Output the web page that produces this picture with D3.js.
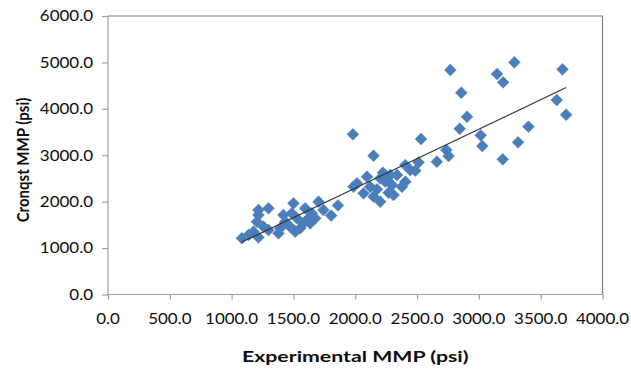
<!DOCTYPE html>
<html>
<head>
<meta charset="utf-8">
<script src="https://cdn.jsdelivr.net/npm/d3@7"></script>
<style>
  body { margin: 0; background: #fff; }
  text { font-family: Lato, "Open Sans", sans-serif; fill: #0d0d0d; }
</style>
</head>
<body>
<svg id="chart"></svg>
<script>
// Experimental MMP vs Cronquist MMP (psi)
const expMMP = [2769, 2858, 3287, 3147, 3196, 3676, 3630, 3706, 2904, 2845,
  3015, 3028, 3401, 3317, 3193, 2737, 2755, 2660, 1981, 2148,
  2532, 2513, 2486, 2405, 2405, 2338, 2224, 2095, 2014, 1986,
  2067, 2148, 2202, 2270, 2297, 2310, 2378, 2243, 2176, 2121,
  2202, 2283, 2445, 1860, 1805, 1083, 1136, 1177, 1217, 1217,
  1217, 1204, 1298, 1258, 1298, 1379, 1393, 1419, 1433, 1474,
  1500, 1487, 1528, 1514, 1595, 1581, 1622, 1649, 1555, 1703,
  1743, 1676, 1636];
const cronMMP = [4836, 4347, 5002, 4750, 4571, 4851, 4190, 3873, 3830, 3571,
  3429, 3199, 3615, 3278, 2912, 3113, 2983, 2860, 3451, 2990,
  3350, 2848, 2667, 2789, 2430, 2574, 2624, 2538, 2395, 2322,
  2180, 2107, 1999, 2193, 2359, 2143, 2322, 2430, 2266, 2322,
  2502, 2574, 2682, 1920, 1700, 1211, 1282, 1353, 1232, 1820,
  1712, 1568, 1856, 1460, 1389, 1318, 1426, 1712, 1568, 1460,
  1964, 1749, 1641, 1353, 1856, 1533, 1641, 1749, 1426, 1999,
  1820, 1641, 1533];
const xTicks = [0, 500, 1000, 1500, 2000, 2500, 3000, 3500, 4000];
const yTicks = [0, 1000, 2000, 3000, 4000, 5000, 6000];

const width = 631, height = 369;
const mLeft = 108, mRight = 602.5, mTop = 16, mBottom = 294.5;
const sx = 1.13; // the picture's text is stretched sideways

const svg = d3.select("#chart").attr("width", width).attr("height", height);

const x = d3.scaleLinear().domain([0, 4000]).range([mLeft, mRight]);
const y = d3.scaleLinear().domain([0, 6000]).range([mBottom, mTop]);

// plot area border (top and right)
svg.append("path")
  .attr("d", `M${mLeft},${mTop}H${mRight}V${mBottom}`)
  .attr("fill", "none").attr("stroke", "#7f7f7f").attr("stroke-width", 1.2);

// axes
const xAxis = svg.append("g").attr("transform", `translate(0,${mBottom})`)
  .call(d3.axisBottom(x).tickValues(xTicks).tickSize(5).tickFormat(""));
const yAxis = svg.append("g").attr("transform", `translate(${mLeft},0)`)
  .call(d3.axisLeft(y).tickValues(yTicks).tickSize(6).tickFormat(""));
svg.selectAll(".domain, .tick line").attr("stroke", "#a0a0a0").attr("stroke-width", 1.2);
xAxis.select(".domain").attr("d", `M${mLeft},0H${mRight}`);
yAxis.select(".domain").attr("d", `M0,${mBottom}V${mTop}`);

// tick labels
xTicks.forEach(t => {
  svg.append("text")
    .attr("transform", `translate(${x(t)},${mBottom + 29}) scale(${sx},1)`)
    .attr("text-anchor", "middle").attr("font-size", 15)
    .text(t.toFixed(1));
});
yTicks.forEach(t => {
  svg.append("text")
    .attr("transform", `translate(93,${y(t) + 5.3}) scale(${sx},1)`)
    .attr("text-anchor", "end").attr("font-size", 15)
    .text(t.toFixed(1));
});

// axis titles
svg.append("text")
  .attr("transform", `translate(${(mLeft + mRight) / 2},${mBottom + 67}) scale(1.33,1)`)
  .attr("text-anchor", "middle").attr("font-size", 16).attr("font-weight", "bold")
  .text("Experimental MMP (psi)");
svg.append("text")
  .attr("transform", `translate(29,160) scale(${sx},1) rotate(-90)`)
  .attr("text-anchor", "middle").attr("font-size", 15).attr("font-weight", "bold")
  .text("Cronqst MMP (psi)");

// points
const data = expMMP.map((v, i) => ({ x: v, y: cronMMP[i] }));
const diamond = d3.symbol().type(d3.symbolSquare).size(70);
svg.append("g").selectAll("path")
  .data(data)
  .enter()
  .append("path")
  .attr("d", diamond)
  .attr("transform", d => `translate(${x(d.x)},${y(d.y)}) rotate(45)`)
  .attr("fill", "#4a7ebb")
  .attr("stroke", "#4f81bd").attr("stroke-width", 0.5);

// linear trendline (least squares)
const mx = d3.mean(data, d => d.x), my = d3.mean(data, d => d.y);
const slope = d3.sum(data, d => (d.x - mx) * (d.y - my)) / d3.sum(data, d => (d.x - mx) ** 2);
const icpt = my - slope * mx;
const [x0, x1] = d3.extent(data, d => d.x);
svg.append("line")
  .attr("x1", x(x0)).attr("y1", y(slope * x0 + icpt))
  .attr("x2", x(x1)).attr("y2", y(slope * x1 + icpt))
  .attr("stroke", "#333").attr("stroke-width", 1.1);
</script>
</body>
</html>
